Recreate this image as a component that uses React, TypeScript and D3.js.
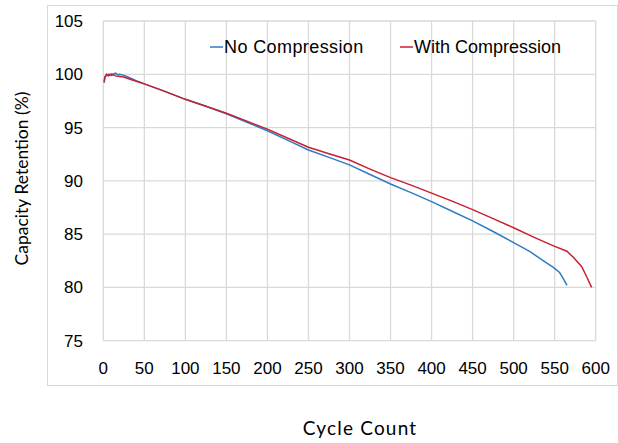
import React from "react";
import * as d3 from "d3";

const xTicks = [0, 50, 100, 150, 200, 250, 300, 350, 400, 450, 500, 550, 600];
const yTicks = [75, 80, 85, 90, 95, 100, 105];

const seriesNames = ["No Compression", "With Compression"];

const noCompCycles = [1, 2, 4, 6, 8, 10, 12, 15, 18, 20, 25, 30, 40, 50, 75, 100, 125, 150, 175, 200, 225, 250, 275, 300, 325, 350, 375, 400, 425, 450, 475, 500, 520, 540, 548, 556, 560, 565];
const noCompValues = [99.2, 99.8, 99.9, 100.0, 99.9, 100.05, 100.0, 100.1, 99.95, 100.0, 99.9, 99.75, 99.4, 99.1, 98.4, 97.65, 97.0, 96.3, 95.5, 94.7, 93.8, 92.9, 92.2, 91.5, 90.6, 89.7, 88.9, 88.05, 87.15, 86.25, 85.25, 84.2, 83.35, 82.3, 81.9, 81.4, 80.9, 80.2];

const withCompCycles = [1, 2, 4, 6, 8, 10, 12, 15, 20, 25, 30, 40, 50, 75, 100, 125, 150, 175, 200, 225, 250, 275, 300, 325, 350, 375, 400, 425, 450, 475, 500, 525, 550, 565, 573, 583, 589, 595];
const withCompValues = [99.3, 99.7, 100.0, 99.85, 100.0, 99.9, 99.95, 99.85, 99.8, 99.75, 99.6, 99.35, 99.1, 98.4, 97.65, 97.0, 96.35, 95.6, 94.85, 94.0, 93.15, 92.55, 91.95, 91.1, 90.3, 89.6, 88.85, 88.1, 87.3, 86.45, 85.6, 84.7, 83.85, 83.4, 82.8, 81.95, 81.0, 80.0];

const colors = ["#2E7BC4", "#C8202F"];

export default function App() {
  const W = 618, H = 443;
  const x = d3.scaleLinear().domain([0, 600]).range([103.3, 595.7]);
  const y = d3.scaleLinear().domain([75, 105]).range([340.7, 21]);
  const line = d3.line<[number, number]>().x(d => x(d[0])).y(d => y(d[1]));
  const s1 = noCompCycles.map((c, i) => [c, noCompValues[i]] as [number, number]);
  const s2 = withCompCycles.map((c, i) => [c, withCompValues[i]] as [number, number]);
  const grid = "#d9d9d9";
  const font = "'Liberation Sans', Arial, sans-serif";
  const titleFont = "Lato, 'Open Sans', sans-serif";
  return (
    <svg width={W} height={H} style={{ position: "absolute", left: 0, top: 0, background: "#fff" }}>
      <rect x={47.5} y={5.5} width={570} height={380} fill="#fff" stroke={grid} strokeWidth={1} />
      {xTicks.map(t => (
        <line key={"gx" + t} x1={x(t)} x2={x(t)} y1={y(105)} y2={y(75)} stroke={grid} strokeWidth={1.3} />
      ))}
      {yTicks.map(t => (
        <line key={"gy" + t} x1={x(0)} x2={x(600)} y1={y(t)} y2={y(t)} stroke={grid} strokeWidth={1.3} />
      ))}
      {yTicks.map(t => (
        <text key={"ty" + t} x={83} y={y(t)} dy="0.35em" textAnchor="end" fontFamily={font} fontSize={17} fill="#000">{t}</text>
      ))}
      {xTicks.map(t => (
        <text key={"tx" + t} x={x(t)} y={368} dy="0.35em" textAnchor="middle" fontFamily={font} fontSize={17} fill="#000">{t}</text>
      ))}
      <path d={line(s1) || ""} fill="none" stroke={colors[0]} strokeWidth={1.5} />
      <path d={line(s2) || ""} fill="none" stroke={colors[1]} strokeWidth={1.5} />
      <line x1={210} x2={223} y1={47} y2={47} stroke={colors[0]} strokeWidth={1.5} />
      <text x={224} y={47} dy="0.35em" fontFamily={font} fontSize={18} letterSpacing={0.4} fill="#000">{seriesNames[0]}</text>
      <line x1={400} x2={413} y1={47} y2={47} stroke={colors[1]} strokeWidth={1.5} />
      <text x={414} y={47} dy="0.35em" fontFamily={font} fontSize={18} fill="#000">{seriesNames[1]}</text>
      <text transform={`translate(22,178.5) rotate(-90)`} textAnchor="middle" dy="0.35em" fontFamily={titleFont} fontSize={17.5} fill="#000">Capacity Retention (%)</text>
      <text x={360} y={428} textAnchor="middle" dy="0.35em" fontFamily={titleFont} fontSize={19} letterSpacing={1.2} fill="#000">Cycle Count</text>
    </svg>
  );
}
